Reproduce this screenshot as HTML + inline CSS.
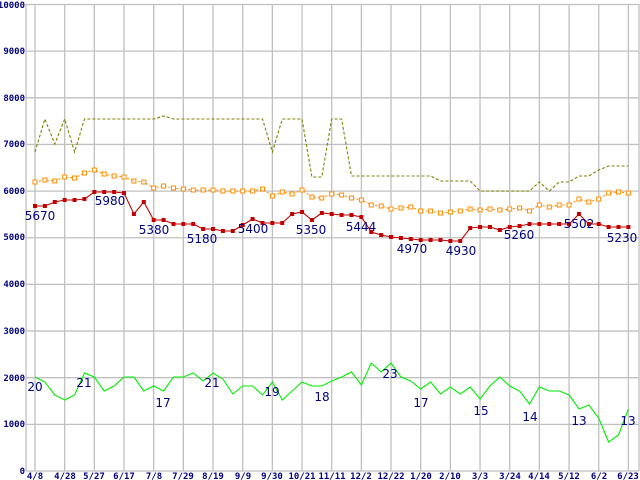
<!DOCTYPE html>
<html><head><meta charset="utf-8"><style>
html,body{margin:0;padding:0;background:#fff;}
svg{display:block;}
.yl{font-family:"DejaVu Sans Mono","Liberation Mono",monospace;font-size:9px;font-weight:bold;fill:#000080;}
.xl{font-family:"DejaVu Sans Mono","Liberation Mono",monospace;font-size:9px;font-weight:bold;fill:#000080;}
.dl{font-family:"DejaVu Sans","Liberation Sans",sans-serif;font-size:12px;fill:#000080;}
</style></head><body>
<svg id="s" width="640" height="480" xmlns="http://www.w3.org/2000/svg">
<g id="grid" stroke="#c0c0c0" stroke-width="1.3" fill="none"></g>
<line x1="26" y1="4" x2="26" y2="471" stroke="#c0c0c0" stroke-width="1.3"/>
<g class="yl" text-anchor="end">
<text x="25" y="8">10000</text><text x="25" y="54">9000</text><text x="25" y="101">8000</text>
<text x="25" y="147">7000</text><text x="25" y="194">6000</text><text x="25" y="240">5000</text>
<text x="25" y="287">4000</text><text x="25" y="334">3000</text><text x="25" y="381">2000</text>
<text x="25" y="427">1000</text><text x="25" y="474">0</text>
</g>
<g class="xl" text-anchor="middle">
<text x="35" y="479">4/8</text><text x="65" y="479">4/28</text><text x="94" y="479">5/27</text>
<text x="124" y="479">6/17</text><text x="154" y="479">7/8</text><text x="183" y="479">7/29</text>
<text x="213" y="479">8/19</text><text x="243" y="479">9/9</text><text x="272" y="479">9/30</text>
<text x="302" y="479">10/21</text><text x="332" y="479">11/11</text><text x="361" y="479">12/2</text>
<text x="391" y="479">12/22</text><text x="421" y="479">1/20</text><text x="450" y="479">2/10</text>
<text x="480" y="479">3/3</text><text x="510" y="479">3/24</text><text x="539" y="479">4/14</text>
<text x="569" y="479">5/12</text><text x="599" y="479">6/2</text><text x="628" y="479">6/23</text>
</g>
<g id="series"></g>
<g class="dl" text-anchor="middle">
<text x="40" y="220">5670</text><text x="110" y="205">5980</text><text x="154" y="234">5380</text>
<text x="202" y="243">5180</text><text x="253" y="233">5400</text><text x="311" y="234">5350</text>
<text x="361" y="231">5444</text><text x="412" y="253">4970</text><text x="461" y="255">4930</text>
<text x="519" y="239">5260</text><text x="579" y="228">5502</text><text x="622" y="242">5230</text>
<text x="35" y="391">20</text><text x="84" y="387">21</text><text x="163" y="407">17</text>
<text x="212" y="387">21</text><text x="272" y="396">19</text><text x="322" y="401">18</text>
<text x="390" y="378">23</text><text x="421" y="407">17</text><text x="481" y="415">15</text>
<text x="530" y="421">14</text><text x="579" y="425">13</text><text x="628" y="425">13</text>
</g>
</svg>
<script>
var NS="http://www.w3.org/2000/svg";
function el(t,a,p){var e=document.createElementNS(NS,t);for(var k in a)e.setAttribute(k,a[k]);p.appendChild(e);return e;}
var g=document.getElementById('grid');
for(var v=0;v<=10;v++){var y=471-v*46.65;el('line',{x1:26,y1:y,x2:639,y2:y},g);}
for(var i=0;i<=20;i++){var x=35+i*29.67;el('line',{x1:x,y1:4,x2:x,y2:471},g);}
el('line',{x1:639,y1:4,x2:639,y2:471},g);
var red=[206,206,202,200,200,199,192,192,192,193,214,202,220,220,224,224,224,229,229,231,231,225,219,223,223,223,214,212,220,213,214,215,215,217,232,235,237,238,239,240,240,240,241,241,228,227,227,230,227,226,224,224,224,224,224,214,224,224,227,227,227];
var org=[182,180,181,177,178,173,170,174,176,177,181,182,188,186,188,189,190,190,190,191,191,191,191,189,196,192,194,190,197,198,194,195,198,200,205,206,209,208,207,211,211,213,212,211,209,210,209,210,209,208,211,205,207,205,205,199,202,199,193,192,193];
var olv=[152,119,144,119,152,119,119,119,119,119,119,119,119,116,119,119,119,119,119,119,119,119,119,119,152,119,119,119,177,177,119,119,176,176,176,176,176,176,176,176,176,181,181,181,181,191,191,191,191,191,191,182,191,182,182,176,176,170,166,166,166];
var grn=[377,382,395,400,395,373,377,391,386,377,377,391,386,391,377,377,373,381,373,379,394,386,386,395,382,400,391,382,386,386,381,377,372,385,363,372,363,377,381,389,382,394,387,394,387,399,386,377,386,391,404,387,391,391,395,409,405,418,442,435,409];
var s=document.getElementById('series');
function pts(a){return a.map(function(y,i){return (35+i*9.89).toFixed(1)+','+y;}).join(' ');}
el('polyline',{points:pts(olv),fill:'none',stroke:'#808000','stroke-width':1.1,'stroke-dasharray':'3,2'},s);
el('polyline',{points:pts(org),fill:'none',stroke:'#ff8c00','stroke-width':1.1,'stroke-dasharray':'2,2'},s);
org.forEach(function(y,i){el('rect',{x:35+i*9.89-2,y:y-2,width:4,height:4,fill:'#fff',stroke:'#ff8c00','stroke-width':1},s);});
el('polyline',{points:pts(red),fill:'none',stroke:'#c00000','stroke-width':1.1},s);
red.forEach(function(y,i){el('rect',{x:35+i*9.89-2,y:y-2,width:4,height:4,fill:'#c00000'},s);});
el('polyline',{points:pts(grn),fill:'none',stroke:'#00ee00','stroke-width':1.1},s);
</script>
</body></html>
